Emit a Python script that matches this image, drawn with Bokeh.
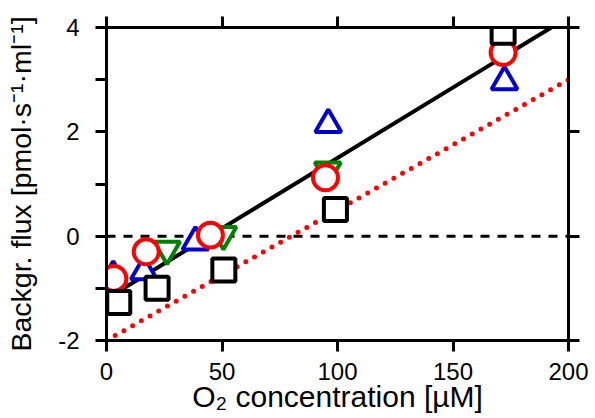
import numpy as np
from bokeh.plotting import figure
from bokeh.models import LinearAxis, FixedTicker
from bokeh.embed import file_html
from bokeh.resources import INLINE

# ---- data ----
sq_x = [5.3, 21.9, 50.8, 99.1, 171.7]
sq_y = [-1.27, -1.00, -0.65, 0.51, 3.91]
ci_x = [3.2, 17.2, 45.0, 94.8, 171.7]
ci_y = [-0.81, -0.30, 0.02, 1.12, 3.52]
tu_x = [2.9, 16.2, 38.5, 96.0, 172.3]
tu_y = [-0.77, -0.68, -0.11, 2.14, 2.96]
td_x = [26.2, 50.6, 95.8]
td_y = [-0.25, 0.03, 1.27]
fit_x = [0, 200]
fit_y = [-1.2, 4.2]
ref_x = [0, 200]
ref_y = [-2.0, 3.0]
zero_x = [0, 200]
zero_y = [0, 0]
x_ticks = [0, 50, 100, 150, 200]
x_tick_labels = ["0", "50", "100", "150", "200"]
y_major = [-2, 0, 2, 4]
y_tick_labels = ["-2", "0", "2", "4"]
y_minor = [-1, 1, 3]
x_title = "O\u2082 concentration [\u00b5M]"
y_title = "Backgr. flux [pmol\u00b7s\u207b\u00b9\u00b7ml\u207b\u00b9]"

FONT = "Liberation Sans"

p = figure(width=595, height=418, x_range=(0, 200), y_range=(-2, 4),
           output_backend="svg", toolbar_location=None,
           x_axis_location=None, y_axis_location=None,
           min_border_left=106, min_border_right=27,
           min_border_top=27, min_border_bottom=78)
p.grid.visible = False
p.outline_line_color = None
p.background_fill_color = "white"
p.border_fill_color = "white"


def mk_axis(ticks, labels, minor=None, title_size="29px"):
    if minor:
        ax = LinearAxis(ticker=FixedTicker(ticks=ticks, minor_ticks=minor))
    else:
        ax = LinearAxis(ticker=FixedTicker(ticks=ticks))
    ax.axis_line_width = 3
    ax.axis_line_color = "black"
    ax.major_tick_line_width = 3
    ax.minor_tick_line_width = 3
    ax.major_tick_in = 0
    ax.major_tick_out = 11
    ax.minor_tick_in = 0
    ax.minor_tick_out = 11
    ax.major_label_text_font = FONT
    ax.major_label_text_color = "black"
    ax.axis_label_text_font = FONT
    ax.axis_label_text_font_style = "normal"
    ax.axis_label_text_color = "black"
    ax.axis_label_text_font_size = title_size
    if labels is not None:
        ax.major_label_text_font_size = "24px"
        ax.major_label_overrides = {t: s for t, s in zip(ticks, labels)}
    else:
        ax.major_label_text_font_size = "0px"
        ax.major_label_overrides = {t: "" for t in ticks}
        ax.major_label_standoff = 0
    return ax


bottom = mk_axis(x_ticks, x_tick_labels, title_size="30px")
bottom.major_label_standoff = 11
bottom.axis_label = x_title
bottom.axis_label_standoff = -3
top = mk_axis(x_ticks, None)
left = mk_axis(y_major, y_tick_labels, y_minor, title_size="28.5px")
left.major_label_standoff = 16
left.axis_label = y_title
left.axis_label_standoff = 18
right = mk_axis(y_major, None)
p.add_layout(bottom, "below")
p.add_layout(top, "above")
p.add_layout(left, "left")
p.add_layout(right, "right")

# lines
p.line(zero_x, zero_y, line_color="black", line_width=3, line_dash="9 8")
p.line(ref_x, ref_y, line_color="red", line_width=5, line_dash="0 10",
       line_cap="round")
p.line(fit_x, fit_y, line_color="black", line_width=4)

# markers
p.scatter(tu_x, tu_y, marker="triangle", size=26, line_width=4,
          line_color="#0000cc", fill_color="white")
p.scatter(td_x, td_y, marker="inverted_triangle", size=26, line_width=4,
          line_color="#008000", fill_color="white")
p.scatter(ci_x, ci_y, marker="circle", size=25, line_width=4,
          line_color="red", fill_color="white")
p.scatter(sq_x, sq_y, marker="square", size=23, line_width=4,
          line_color="black", fill_color="white")

open("out.html", "w").write(file_html(p, INLINE))
